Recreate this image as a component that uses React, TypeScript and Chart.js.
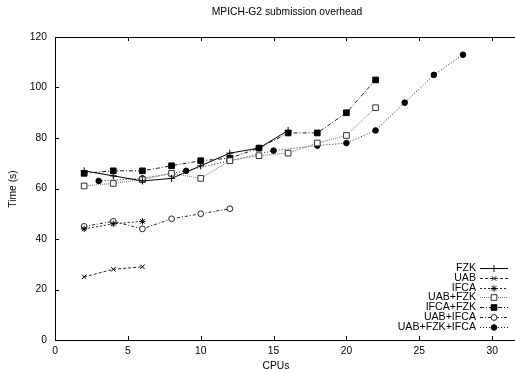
import React, { useEffect, useRef } from 'react';
import { Chart, registerables } from 'chart.js';
import { drawPoint } from 'chart.js/helpers';

Chart.register(...registerables);

const FONT = '"Liberation Sans", Arial, Helvetica, sans-serif';

const titleText = 'MPICH-G2 submission overhead';
const xTitle = 'CPUs';
const yTitle = 'Time (s)';

const seriesNames = ['FZK', 'UAB', 'IFCA', 'UAB+FZK', 'IFCA+FZK', 'UAB+IFCA', 'UAB+FZK+IFCA'];

const cpusFZK = [2, 4, 6, 8, 10, 12, 14, 16];
const timeFZK = [67, 65, 63, 64, 69, 74, 76, 83];

const cpusUAB = [2, 4, 6];
const timeUAB = [25, 28, 29];

const cpusIFCA = [2, 4, 6];
const timeIFCA = [44, 46, 47];

const cpusUABFZK = [2, 4, 6, 8, 10, 12, 14, 16, 18, 20, 22];
const timeUABFZK = [61, 62, 63.5, 66, 64, 71, 73, 74, 78, 81, 92];

const cpusIFCAFZK = [2, 4, 6, 8, 10, 12, 14, 16, 18, 20, 22];
const timeIFCAFZK = [66, 67, 67, 69, 71, 72, 76, 82, 82, 90, 103];

const cpusUABIFCA = [2, 4, 6, 8, 10, 12];
const timeUABIFCA = [45, 47, 44, 48, 50, 52];

const cpusAll = [3, 6, 9, 12, 15, 18, 20, 22, 24, 26, 28];
const timeAll = [63, 64, 67, 71, 75, 77, 78, 83, 94, 105, 113];

const xTicks = [0, 5, 10, 15, 20, 25, 30, 35];
const yTicks = [0, 20, 40, 60, 80, 100, 120];

const seriesCpus = [cpusFZK, cpusUAB, cpusIFCA, cpusUABFZK, cpusIFCAFZK, cpusUABIFCA, cpusAll];
const seriesTimes = [timeFZK, timeUAB, timeIFCA, timeUABFZK, timeIFCAFZK, timeUABIFCA, timeAll];

type Style = {
  color: string;
  dash: number[];
  point: string;
  radius: number;
  fill: string;
  pointBorder: string;
};

const styles: Style[] = [
  { color: '#000', dash: [], point: 'cross', radius: 3.5, fill: '#000', pointBorder: '#000' },
  { color: '#222', dash: [3, 2], point: 'crossRot', radius: 3.2, fill: '#000', pointBorder: '#000' },
  { color: '#222', dash: [2, 2], point: 'star', radius: 3.2, fill: '#000', pointBorder: '#000' },
  { color: '#777', dash: [1, 1], point: 'rect', radius: 4, fill: '#fff', pointBorder: '#333' },
  { color: '#222', dash: [4, 2, 1, 2], point: 'rect', radius: 4, fill: '#000', pointBorder: '#000' },
  { color: '#222', dash: [3, 2, 1, 2], point: 'circle', radius: 2.9, fill: '#fff', pointBorder: '#222' },
  { color: '#222', dash: [1, 2], point: 'circle', radius: 2.8, fill: '#000', pointBorder: '#000' },
];

const frameAndText = {
  id: 'frameAndText',
  afterDraw(chart: any) {
    const { ctx, chartArea } = chart;
    const xs = chart.scales.x;
    const ys = chart.scales.y;
    ctx.save();
    ctx.strokeStyle = '#000';
    ctx.lineWidth = 1;
    ctx.setLineDash([]);
    // frame
    ctx.beginPath();
    ctx.rect(chartArea.left + 0.5, chartArea.top + 0.5, chartArea.right - chartArea.left, chartArea.bottom - chartArea.top);
    ctx.stroke();
    // inner ticks
    ctx.beginPath();
    xTicks.forEach((v) => {
      const px = Math.round(xs.getPixelForValue(v)) + 0.5;
      ctx.moveTo(px, chartArea.bottom);
      ctx.lineTo(px, chartArea.bottom - 4);
      ctx.moveTo(px, chartArea.top);
      ctx.lineTo(px, chartArea.top + 4);
    });
    yTicks.forEach((v) => {
      const py = Math.round(ys.getPixelForValue(v)) + 0.5;
      ctx.moveTo(chartArea.left, py);
      ctx.lineTo(chartArea.left + 4, py);
      ctx.moveTo(chartArea.right, py);
      ctx.lineTo(chartArea.right - 4, py);
    });
    ctx.stroke();

    // texts
    ctx.fillStyle = '#000';
    ctx.font = `10.3px ${FONT}`;
    ctx.textAlign = 'center';
    ctx.textBaseline = 'middle';
    ctx.fillText(titleText, 287, 12);
    ctx.fillText(xTitle, 276, 366);
    ctx.save();
    ctx.translate(13, 189);
    ctx.rotate(-Math.PI / 2);
    ctx.fillText(yTitle, 0, 0);
    ctx.restore();

    // legend
    ctx.font = `10.6px ${FONT}`;
    ctx.textAlign = 'right';
    seriesNames.forEach((name, i) => {
      const st = styles[i];
      const y = Math.round(268 + i * 9.75) + 0.5;
      ctx.fillStyle = '#000';
      ctx.fillText(name, 476, y);
      ctx.beginPath();
      ctx.setLineDash(st.dash);
      ctx.strokeStyle = st.color;
      ctx.lineWidth = 1;
      ctx.moveTo(480, y);
      ctx.lineTo(508, y);
      ctx.stroke();
      ctx.setLineDash([]);
      ctx.fillStyle = st.fill;
      ctx.strokeStyle = st.pointBorder;
      drawPoint(ctx, { pointStyle: st.point as any, radius: st.radius, rotation: 0, borderWidth: 1 } as any, 494, y);
    });
    ctx.restore();
  },
};

export default function App() {
  const ref = useRef<HTMLCanvasElement>(null);
  useEffect(() => {
    if (!ref.current) return;
    const datasets = seriesNames.map((name, i) => {
      const st = styles[i];
      return {
        label: name,
        data: seriesCpus[i].map((c, j) => ({ x: c, y: seriesTimes[i][j] })),
        borderColor: st.color,
        borderWidth: 1,
        borderDash: st.dash,
        pointStyle: st.point as any,
        pointRadius: st.radius,
        pointBackgroundColor: st.fill,
        pointBorderColor: st.pointBorder,
        pointBorderWidth: 1,
        fill: false,
        tension: 0,
      };
    });
    const chart = new Chart(ref.current, {
      type: 'line',
      data: { datasets },
      options: {
        animation: false,
        responsive: false,
        devicePixelRatio: 1,
        layout: { padding: { left: 0, top: 37, right: 35, bottom: 0 } },
        plugins: { legend: { display: false }, tooltip: { enabled: false }, title: { display: false } },
        scales: {
          x: {
            type: 'linear',
            min: 0,
            max: 35,
            afterFit: (s: any) => { s.height = 34; },
            ticks: { stepSize: 5, color: '#000', padding: 5, font: { family: FONT, size: 10.3 } },
            grid: { drawOnChartArea: false, drawTicks: false },
            border: { display: false },
          },
          y: {
            type: 'linear',
            min: 0,
            max: 120,
            afterFit: (s: any) => { s.width = 55; },
            ticks: { stepSize: 20, color: '#000', padding: 8, font: { family: FONT, size: 10.3 } },
            grid: { drawOnChartArea: false, drawTicks: false },
            border: { display: false },
          },
        },
      },
      plugins: [frameAndText],
    });
    return () => chart.destroy();
  }, []);
  return (
    <div style={{ position: 'absolute', left: 0, top: 0, width: 515, height: 374, overflow: 'hidden', background: '#fff' }}>
      <canvas ref={ref} width={600} height={374} style={{ display: 'block', width: 600, height: 374 }} />
    </div>
  );
}
